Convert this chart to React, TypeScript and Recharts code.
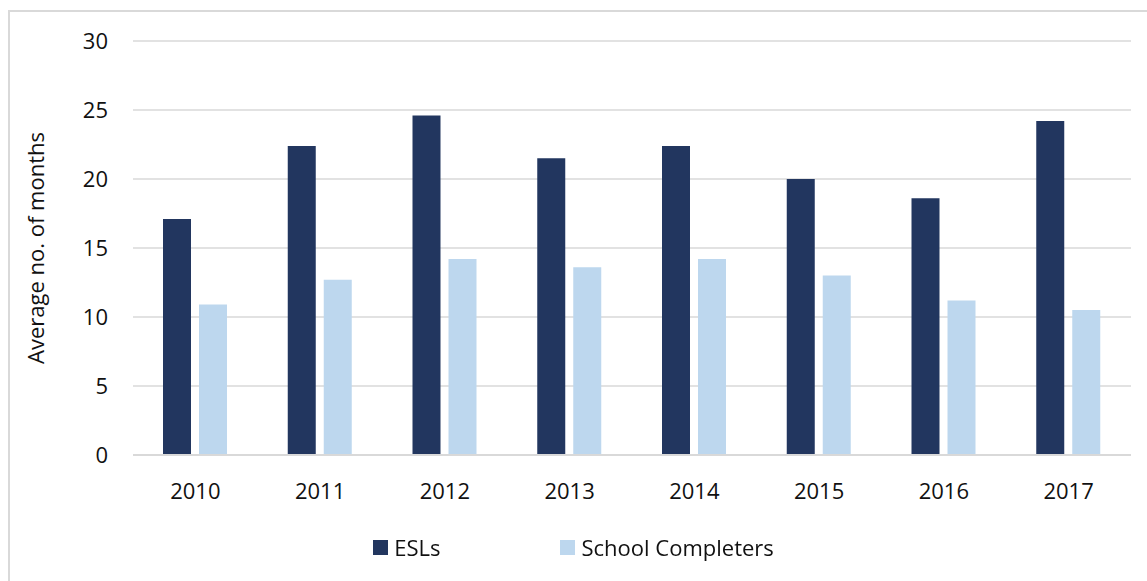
import React from 'react';
import { BarChart, Bar, XAxis, YAxis, CartesianGrid } from 'recharts';

const years = ['2010', '2011', '2012', '2013', '2014', '2015', '2016', '2017'];
const eslValues = [17.1, 22.4, 24.6, 21.5, 22.4, 20.0, 18.6, 24.2];
const completerValues = [10.9, 12.7, 14.2, 13.6, 14.2, 13.0, 11.2, 10.5];
const yTicks = [0, 5, 10, 15, 20, 25, 30];
const seriesNames = ['ESLs', 'School Completers'];

const ESL_COLOR = '#22365F';
const SC_COLOR = '#BDD7EE';
const FONT = '"Open Sans", sans-serif';

const data = years.map((y, i) => ({ year: y, esl: eslValues[i], sc: completerValues[i] }));

const LegendBox = () => (
  <div
    style={{
      position: 'fixed',
      left: 0,
      top: 532,
      width: 1147,
      display: 'flex',
      justifyContent: 'center',
      alignItems: 'center',
      gap: 120,
      fontFamily: FONT,
      fontSize: 22,
      color: '#111',
    }}
  >
    <div style={{ display: 'flex', alignItems: 'center' }}>
      <span style={{ width: 15, height: 15, background: ESL_COLOR, display: 'inline-block', marginRight: 6 }} />
      <span>{seriesNames[0]}</span>
    </div>
    <div style={{ display: 'flex', alignItems: 'center' }}>
      <span style={{ width: 15, height: 15, background: SC_COLOR, display: 'inline-block', marginRight: 6 }} />
      <span>{seriesNames[1]}</span>
    </div>
  </div>
);

export default function App() {
  return (
    <>
      <div
        style={{
          position: 'fixed',
          left: 8,
          top: 10,
          width: 1160,
          height: 600,
          border: '2px solid #d9d9d9',
          boxSizing: 'border-box',
          background: '#fff',
        }}
      />
      <div style={{ position: 'fixed', left: 0, top: 0 }}>
        <BarChart
          width={1147}
          height={581}
          data={data}
          margin={{ top: 41, right: 16, left: 0, bottom: 96 }}
          barSize={28}
          barGap={8}
        >
          <CartesianGrid vertical={false} stroke="#d9d9d9" strokeWidth={1.5} />
          <XAxis
            dataKey="year"
            height={30}
            axisLine={{ stroke: '#d9d9d9', strokeWidth: 2 }}
            tickLine={false}
            tickSize={0}
            tickMargin={28}
            tick={{ fontFamily: FONT, fontSize: 22, fill: '#111' }}
            interval={0}
          />
          <YAxis
            width={133}
            domain={[0, 30]}
            ticks={yTicks}
            axisLine={false}
            tickLine={false}
            tickSize={0}
            tickMargin={25}
            tick={{ fontFamily: FONT, fontSize: 22, fill: '#111' }}
            label={{
              value: 'Average no. of months',
              angle: -90,
              position: 'insideLeft',
              offset: 36,
              style: { textAnchor: 'middle', fontFamily: FONT, fontSize: 22, fill: '#111' },
            }}
          />
          <Bar dataKey="esl" name={seriesNames[0]} fill={ESL_COLOR} isAnimationActive={false} />
          <Bar dataKey="sc" name={seriesNames[1]} fill={SC_COLOR} isAnimationActive={false} />
        </BarChart>
      </div>
      <LegendBox />
    </>
  );
}
